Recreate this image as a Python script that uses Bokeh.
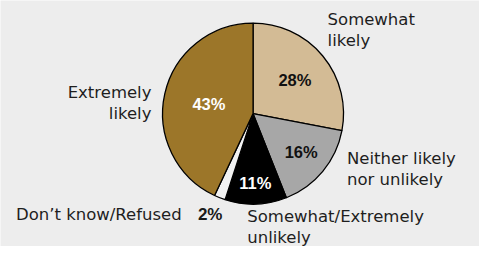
import math
from bokeh.plotting import figure
from bokeh.models import ColumnDataSource
from bokeh.core.properties import value
from bokeh.embed import file_html
from bokeh.resources import INLINE

# ---- data ----
categories = ["Somewhat likely", "Neither likely nor unlikely",
              "Somewhat/Extremely unlikely", "Don’t know/Refused", "Extremely likely"]
shares = [28, 16, 11, 2, 43]
pct_labels = ["28%", "16%", "11%", "2%", "43%"]

# ---- styles / layout ----
colors = ["#D3BB95", "#A7A7A7", "#000000", "#F2F2F2", "#9C7629"]
pct_colors = ["#111111", "#111111", "#FFFFFF", "#222222", "#FFFFFF"]
pct_radius_frac = [0.60, 0.69, 0.79, None, 0.50]
cat_text = ["Somewhat\nlikely", "Neither likely\nnor unlikely",
            "Somewhat/Extremely\nunlikely", "Don’t know/Refused", "Extremely\nlikely"]
cat_pos = [(338, 20, "left"), (358, 168, "left"), (255, 230, "left"),
           (16, 228, "left"), (156, 98, "right")]
line_gap = 22.5
REF_W, REF_H = 495, 262
CX, CY, R = 261, REF_H - 120.5, 93.5

def py(y_ref):
    return REF_H - y_ref

p = figure(width=479, height=246, x_range=(0, REF_W), y_range=(0, REF_H),
           output_backend="svg", toolbar_location=None, min_border=0)
p.axis.visible = False
p.grid.visible = False
p.outline_line_color = None
p.background_fill_color = "#EDEDED"
p.border_fill_color = "#EDEDED"

total = float(sum(shares))
starts, ends, mids = [], [], []
cum = 0.0
for s in shares:
    a0 = math.pi / 2 - 2 * math.pi * cum / total
    cum += s
    a1 = math.pi / 2 - 2 * math.pi * cum / total
    starts.append(a0)
    ends.append(a1)
    mids.append((a0 + a1) / 2)

src = ColumnDataSource(dict(start=starts, end=ends, color=colors, cat=categories))
p.wedge(x=CX, y=CY, radius=R, start_angle="start", end_angle="end",
        direction="clock", fill_color="color", line_color="#000000",
        line_width=1.3, source=src)

# percentage labels inside slices
px, pyy, pt, pc = [], [], [], []
for i, f in enumerate(pct_radius_frac):
    if f is None:
        continue
    px.append(CX + f * R * math.cos(mids[i]))
    pyy.append(CY + f * R * math.sin(mids[i]))
    pt.append(pct_labels[i])
    pc.append(pct_colors[i])
p.text(x=px, y=pyy, text=pt, text_color=pc, text_align="center",
       text_baseline="middle", text_font=value("Liberation Sans"),
       text_font_size="16.5px", text_font_style="bold")

# category labels
for i, t in enumerate(cat_text):
    x0, y0, al = cat_pos[i]
    lines = t.split("\n")
    p.text(x=[x0] * len(lines), y=[py(y0 + k * line_gap) for k in range(len(lines))],
           text=lines, text_align=al, text_baseline="middle",
           text_font=value("DejaVu Sans"), text_font_size="16.5px",
           text_color="#1E1E1E")

# small-slice value beside its label
p.text(x=[204], y=[py(228)], text=[pct_labels[3]], text_align="left",
       text_baseline="middle", text_font=value("Liberation Sans"),
       text_font_size="17px", text_font_style="bold", text_color="#1A1A1A")

open("out.html", "w").write(file_html(p, INLINE))
